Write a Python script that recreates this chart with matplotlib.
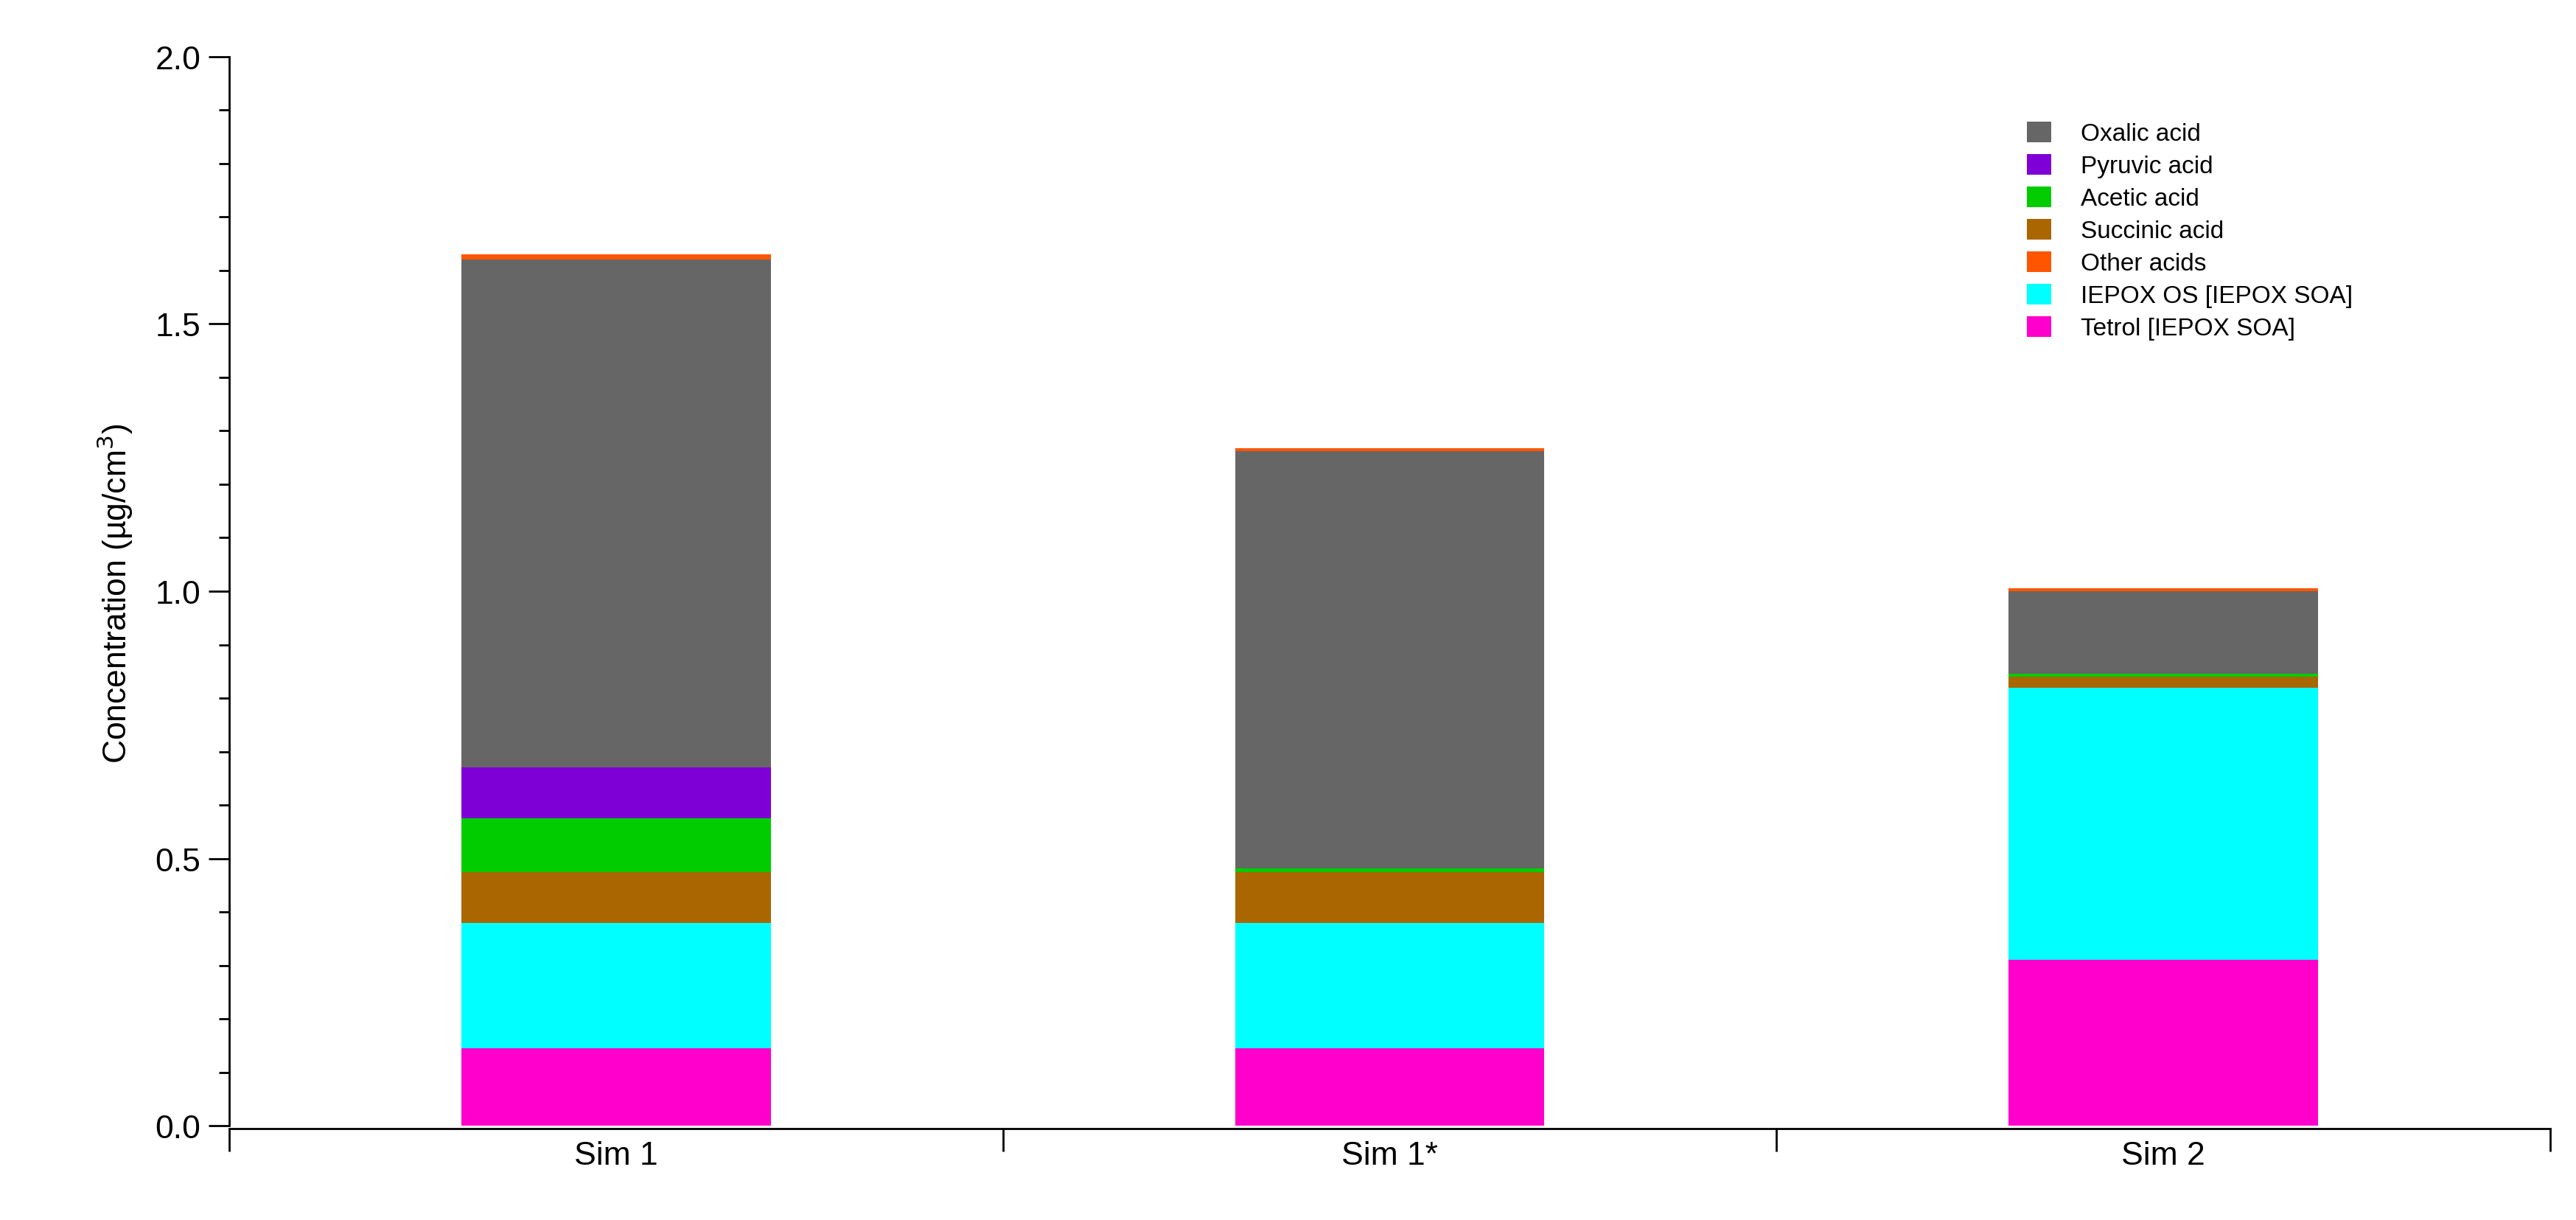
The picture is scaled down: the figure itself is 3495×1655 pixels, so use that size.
import numpy as np
import matplotlib.pyplot as plt
from matplotlib.ticker import MultipleLocator

plt.rcParams["font.family"] = ["Liberation Sans", "DejaVu Sans"]

sims = ['Sim 1', 'Sim 1*', 'Sim 2']
# stacked from bottom to top
tetrol = [0.145, 0.145, 0.310]
iepox_os = [0.235, 0.235, 0.510]
succinic = [0.095, 0.095, 0.020]
acetic = [0.100, 0.007, 0.005]
pyruvic = [0.095, 0.000, 0.000]
oxalic = [0.950, 0.780, 0.155]
other = [0.010, 0.006, 0.005]

series = [
    ('Tetrol [IEPOX SOA]', tetrol, '#ff00cc'),
    ('IEPOX OS [IEPOX SOA]', iepox_os, '#00ffff'),
    ('Succinic acid', succinic, '#aa6600'),
    ('Acetic acid', acetic, '#00cc00'),
    ('Pyruvic acid', pyruvic, '#7f00d6'),
    ('Oxalic acid', oxalic, '#666666'),
    ('Other acids', other, '#ff5500'),
]

fig = plt.figure(figsize=(34.95, 16.56), dpi=100)
ax = fig.add_axes([0.089, 0.075, 0.901, 0.878])

x = np.arange(len(sims))
bottom = np.zeros(len(sims))
handles = {}
for name, vals, col in series:
    h = ax.bar(x, vals, width=0.4, bottom=bottom, color=col, label=name)
    handles[name] = h
    bottom += np.array(vals)

order = ['Oxalic acid', 'Pyruvic acid', 'Acetic acid', 'Succinic acid',
         'Other acids', 'IEPOX OS [IEPOX SOA]', 'Tetrol [IEPOX SOA]']
ax.legend([handles[n] for n in order], order, loc='upper left',
          bbox_to_anchor=(0.765, 0.96), frameon=False, fontsize=24,
          handlelength=1.0, handleheight=0.9, labelspacing=0.35, handletextpad=1.2)

ax.set_xlim(-0.5, 2.5)
ax.set_ylim(-0.005, 2.0)
ax.set_xticks([-0.5, 0.5, 1.5, 2.5])
ax.set_xticklabels([])
ax.set_xticks(x, minor=True)
ax.set_xticklabels(sims, minor=True, fontsize=32)
ax.tick_params(axis='x', which='minor', length=0, pad=12)
ax.tick_params(axis='x', which='major', length=22, width=2, direction='out')
ax.yaxis.set_major_locator(MultipleLocator(0.5))
ax.yaxis.set_minor_locator(MultipleLocator(0.1))
ax.set_yticks([0, 0.5, 1.0, 1.5, 2.0])
ax.set_yticklabels(['0.0', '0.5', '1.0', '1.5', '2.0'], fontsize=32)
ax.tick_params(axis='y', which='major', length=20, width=2, direction='out', pad=8)
ax.tick_params(axis='y', which='minor', length=10, width=2, direction='out')
ax.set_ylabel('Concentration (µg/cm$^3$)', fontsize=32, labelpad=20)

for s in ['top', 'right']:
    ax.spines[s].set_visible(False)
for s in ['left', 'bottom']:
    ax.spines[s].set_linewidth(2)
ax.spines['left'].set_bounds(0, 2.0)

fig.savefig('out.png', dpi=100)
